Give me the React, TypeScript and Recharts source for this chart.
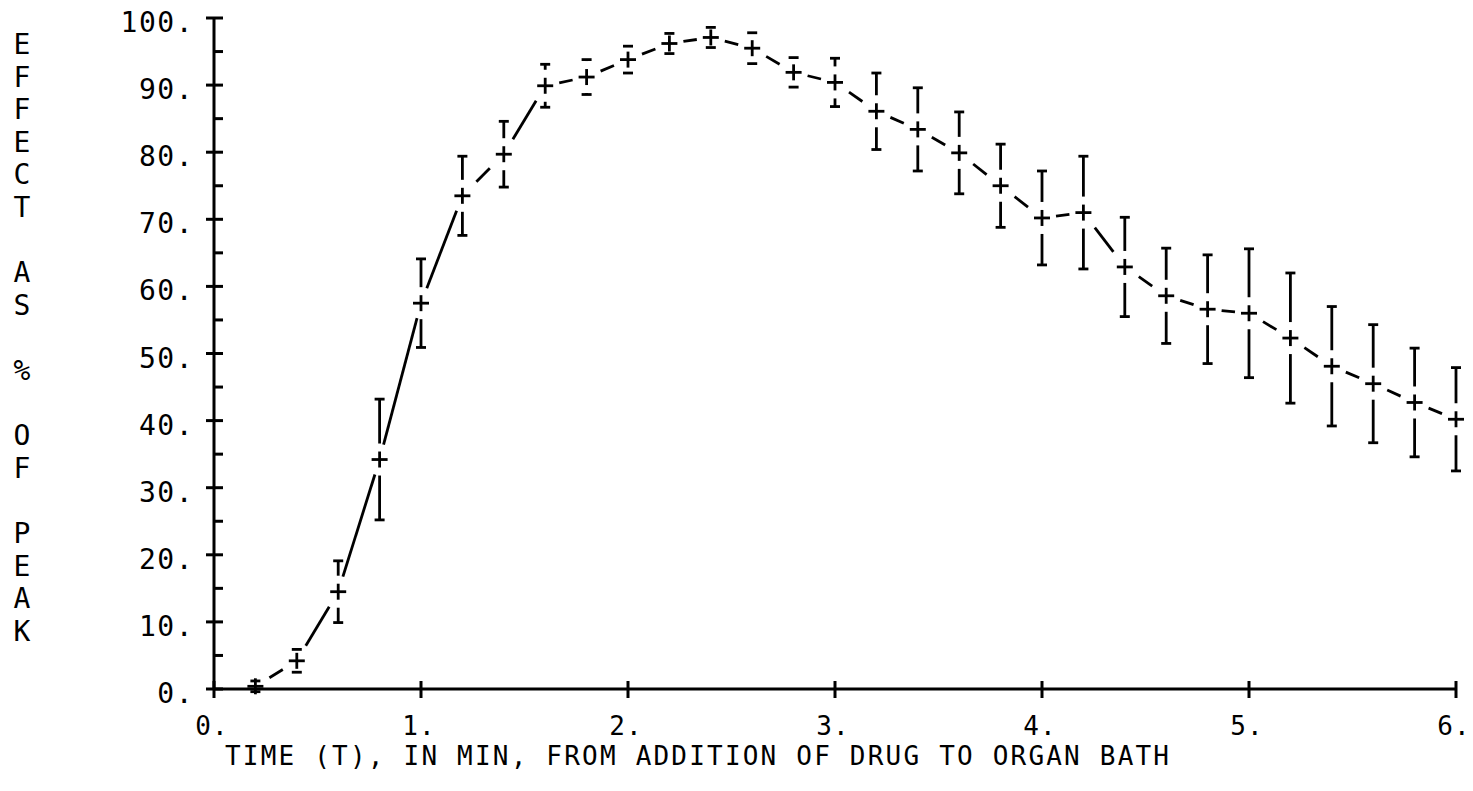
import React from 'react';
import { LineChart, Line, XAxis, YAxis } from 'recharts';

// Mean response (% of peak) and its error, sampled every 0.2 min
const times = [0.2, 0.4, 0.6, 0.8, 1.0, 1.2, 1.4, 1.6, 1.8, 2.0, 2.2, 2.4, 2.6, 2.8, 3.0, 3.2, 3.4, 3.6, 3.8, 4.0, 4.2, 4.4, 4.6, 4.8, 5.0, 5.2, 5.4, 5.6, 5.8, 6.0];
const effect = [0.4, 4.2, 14.5, 34.2, 57.5, 73.5, 79.7, 89.9, 91.2, 93.8, 96.2, 97.1, 95.5, 91.9, 90.4, 86.1, 83.4, 79.9, 75.0, 70.2, 71.0, 62.9, 58.6, 56.6, 56.0, 52.3, 48.1, 45.5, 42.7, 40.2];
const sem = [0.8, 1.7, 4.6, 9.0, 6.6, 5.9, 4.9, 3.2, 2.6, 2.0, 1.5, 1.5, 2.3, 2.2, 3.6, 5.7, 6.2, 6.1, 6.2, 7.0, 8.4, 7.4, 7.1, 8.1, 9.6, 9.7, 8.9, 8.8, 8.1, 7.7];

const xTicks = [0, 1, 2, 3, 4, 5, 6];
const yTicks = [0, 5, 10, 15, 20, 25, 30, 35, 40, 45, 50, 55, 60, 65, 70, 75, 80, 85, 90, 95, 100];

const xTitle = 'TIME (T), IN MIN, FROM ADDITION OF DRUG TO ORGAN BATH';
const yTitle = 'EFFECT AS % OF PEAK';

const data = times.map((t, i) => ({ t, effect: effect[i], sem: sem[i] }));

const FONT = '"DejaVu Sans Mono", "Liberation Mono", monospace';
const INK = '#000';
const PEN = 2.8;

// plotter-style symbol geometry (px)
const LINE_BOX_X = 14;
const LINE_BOX_Y = 15;
const BAR_GAP = 16;
const CAP = 5;
const ARM = 8;

function PlotterMark(props: any) {
  const { cx, cy, index, points, payload } = props;
  if (cx == null || cy == null) return null;
  const pts: any[] = points || [];

  // pixels per unit of effect, taken from the points the y scale placed
  let pxPerUnit = 0;
  if (pts.length > 1) {
    let lo = 0;
    let hi = 0;
    pts.forEach((p, i) => {
      if (p.payload.effect < pts[lo].payload.effect) lo = i;
      if (p.payload.effect > pts[hi].payload.effect) hi = i;
    });
    const dv = pts[hi].payload.effect - pts[lo].payload.effect;
    if (dv !== 0) pxPerUnit = (pts[lo].y - pts[hi].y) / dv;
  }

  const parts: React.ReactNode[] = [];

  // connecting stroke to the next point, broken off inside a box around each symbol
  const next = pts[index + 1];
  if (next) {
    const dx = next.x - cx;
    const dy = next.y - cy;
    const exitT = (adx: number, ady: number) =>
      Math.min(adx > 0 ? LINE_BOX_X / adx : Infinity, ady > 0 ? LINE_BOX_Y / ady : Infinity);
    const t0 = exitT(Math.abs(dx), Math.abs(dy));
    const t1 = 1 - t0;
    if (t0 < t1) {
      parts.push(
        <line key="seg" x1={cx + dx * t0} y1={cy + dy * t0} x2={cx + dx * t1} y2={cy + dy * t1}
          stroke={INK} strokeWidth={PEN} />
      );
    }
  }

  // error bar with caps; the shaft stays clear of the symbol
  const half = payload.sem * pxPerUnit;
  const top = cy - half;
  const bottom = cy + half;
  parts.push(<line key="capT" x1={cx - CAP} x2={cx + CAP} y1={top} y2={top} stroke={INK} strokeWidth={PEN} />);
  parts.push(<line key="capB" x1={cx - CAP} x2={cx + CAP} y1={bottom} y2={bottom} stroke={INK} strokeWidth={PEN} />);
  if (half > BAR_GAP) {
    parts.push(<line key="barT" x1={cx} x2={cx} y1={top} y2={cy - BAR_GAP} stroke={INK} strokeWidth={PEN} />);
    parts.push(<line key="barB" x1={cx} x2={cx} y1={cy + BAR_GAP} y2={bottom} stroke={INK} strokeWidth={PEN} />);
  }

  // plus symbol
  parts.push(<line key="plusH" x1={cx - ARM} x2={cx + ARM} y1={cy} y2={cy} stroke={INK} strokeWidth={PEN} />);
  parts.push(<line key="plusV" x1={cx} x2={cx} y1={cy - ARM} y2={cy + ARM} stroke={INK} strokeWidth={PEN} />);

  return <g>{parts}</g>;
}

function XTick(props: any) {
  const { x, y, payload } = props;
  return (
    <g>
      <line x1={x} x2={x} y1={y - 8} y2={y + 9} stroke={INK} strokeWidth={3} />
      <text x={x - 2} y={y + 46} textAnchor="middle" fontFamily={FONT} fontSize={26} letterSpacing={1} fill={INK}>
        {`${payload.value}.`}
      </text>
    </g>
  );
}

function YTick(props: any) {
  const { x, y, payload } = props;
  const v = payload.value;
  const major = v % 10 === 0;
  return (
    <g>
      <line x1={major ? x - 8 : x} x2={x + 9} y1={y} y2={y} stroke={INK} strokeWidth={3} />
      {major && (
        <text x={x - 20} y={y + 14} textAnchor="end" fontFamily={FONT} fontSize={28} letterSpacing={1.5} fill={INK}>
          {`${v}.`}
        </text>
      )}
    </g>
  );
}

function XTitle(props: any) {
  const vb = props.viewBox || { x: 0, y: 0 };
  return (
    <text x={vb.x + 11} y={vb.y + 76} fontFamily={FONT} fontSize={26} letterSpacing={2.2} fill={INK}>
      {xTitle}
    </text>
  );
}

function YTitle(props: any) {
  const vb = props.viewBox || { x: 0, y: 0 };
  const pitch = 32.6;
  return (
    <g>
      {yTitle.split('').map((ch, i) =>
        ch === ' ' ? null : (
          <text key={i} x={vb.x + 22} y={vb.y + 36 + i * pitch} textAnchor="middle"
            fontFamily={FONT} fontSize={28} fill={INK}>
            {ch}
          </text>
        )
      )}
    </g>
  );
}

export default function App() {
  return (
    <div style={{ position: 'absolute', left: 0, top: 0, width: 1473, height: 791, background: '#fff' }}>
      <LineChart width={1473} height={791} data={data} margin={{ top: 18, right: 17, left: 0, bottom: 0 }}>
        <XAxis
          dataKey="t"
          type="number"
          domain={[0, 6]}
          ticks={xTicks}
          interval={0}
          height={102}
          axisLine={{ stroke: INK, strokeWidth: 3 }}
          tickLine={false}
          tickSize={0}
          tickMargin={0}
          tick={<XTick />}
          label={XTitle}
        />
        <YAxis
          type="number"
          domain={[0, 100]}
          ticks={yTicks}
          interval={0}
          width={214}
          axisLine={{ stroke: INK, strokeWidth: 3 }}
          tickLine={false}
          tickSize={0}
          tickMargin={0}
          tick={<YTick />}
          label={YTitle}
        />
        <Line
          dataKey="effect"
          stroke="none"
          isAnimationActive={false}
          activeDot={false}
          dot={(p: any) => {
            const { key, ...rest } = p;
            return <PlotterMark key={key} {...rest} />;
          }}
        />
      </LineChart>
    </div>
  );
}
